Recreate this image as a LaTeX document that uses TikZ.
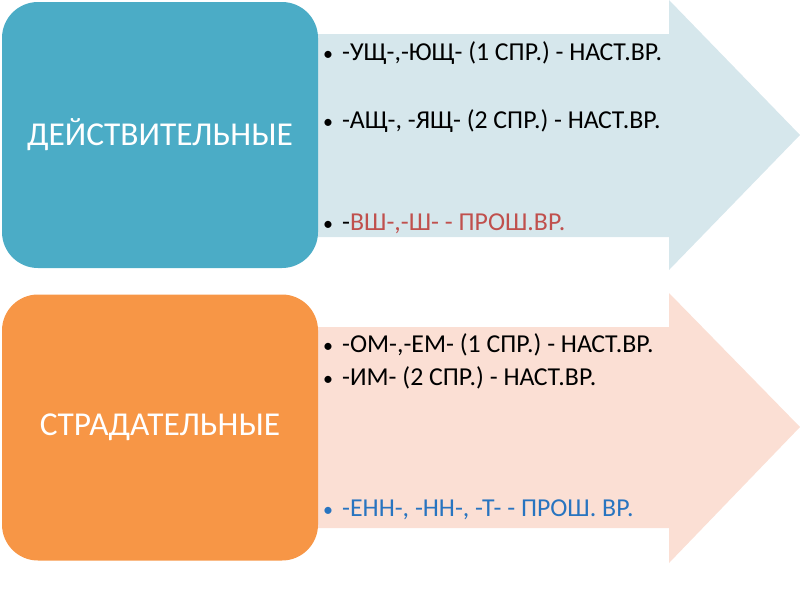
\documentclass[tikz,border=0pt]{standalone}
\usepackage{fontspec}
\setmainfont{Carlito}
\definecolor{teal}{HTML}{4BACC6}
\definecolor{lightblue}{HTML}{D6E7EC}
\definecolor{orangebox}{HTML}{F79646}
\definecolor{lightorange}{HTML}{FBDFD4}
\definecolor{redtext}{HTML}{C0504D}
\definecolor{bluetext}{HTML}{2874C0}
\tikzset{
  catbox/.style={rounded corners=36pt, minimum width=316pt, minimum height=266pt, inner sep=0pt, text=white, font=\fontsize{33.4}{38}\selectfont},
  bulletline/.style={anchor=base west, inner sep=0pt, font=\fontsize{25.8}{30}\selectfont},
}
\newcommand{\bul}{\makebox[19pt][l]{\fontsize{20}{24}\selectfont•}}
\begin{document}
\begin{tikzpicture}[x=1pt,y=-1pt]
\useasboundingbox (0,0) rectangle (800,600);
% arrows
\fill[lightblue] (300,34) -- (669,34) -- (669,0) -- (800,135) -- (669,270) -- (669,237) -- (300,237) -- cycle;
\fill[lightorange] (300,327) -- (669,327) -- (669,293) -- (800,427) -- (669,563) -- (669,528) -- (300,528) -- cycle;
% boxes
\node[catbox, fill=teal] (act) at (160,135) {ДЕЙСТВИТЕЛЬНЫЕ};
\node[catbox, fill=orangebox] (pas) at (160,427.5) {СТРАДАТЕЛЬНЫЕ};
% bullet lines
\node[bulletline] (a1) at (323,60) {\bul-УЩ-,-ЮЩ- (1 СПР.) - НАСТ.ВР.};
\node[bulletline] (a2) at (323,128) {\bul-АЩ-, -ЯЩ- (2 СПР.) - НАСТ.ВР.};
\node[bulletline] (a3) at (323,230) {\bul-\textcolor{redtext}{ВШ-,-Ш- - ПРОШ.ВР.}};
\node[bulletline] (p1) at (323,352) {\bul-ОМ-,-ЕМ- (1 СПР.) - НАСТ.ВР.};
\node[bulletline] (p2) at (323,385) {\bul-ИМ- (2 СПР.) - НАСТ.ВР.};
\node[bulletline, text=bluetext] (p3) at (323,516) {\bul-ЕНН-, -НН-, -Т- - ПРОШ. ВР.};
\end{tikzpicture}
\end{document}
